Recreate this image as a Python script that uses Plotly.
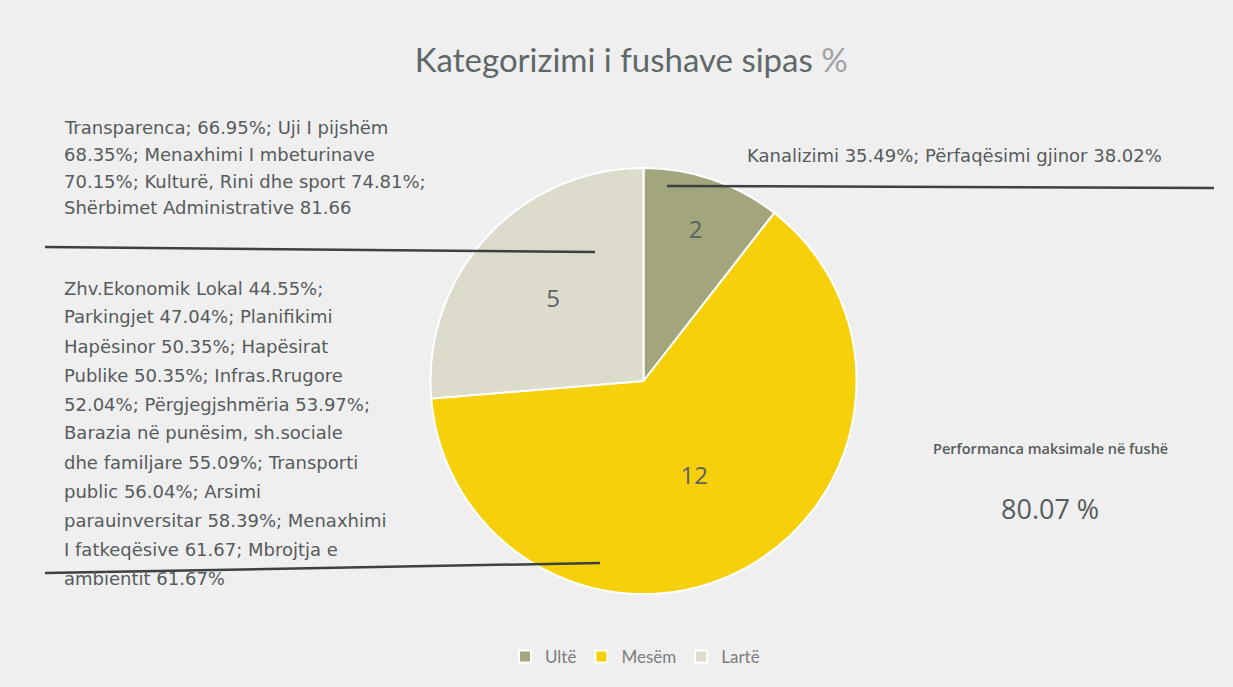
import plotly.graph_objects as go

# categories and counts of fields per category
categories = ["Ultë", "Mesëm", "Lartë"]
counts = [2, 12, 5]
colors = ["#a3a57c", "#f7d00c", "#dddbcc"]

title = "Kategorizimi i fushave sipas <span style='color:#a0a0a0'>%</span>"

# labels written next to the slices, one entry per printed line
high_lines = [
    "Transparenca; 66.95%; Uji I pijshëm",
    "68.35%; Menaxhimi I mbeturinave",
    "70.15%; Kulturë, Rini dhe sport 74.81%;",
    "Shërbimet Administrative 81.66",
]
mid_lines = [
    "Zhv.Ekonomik Lokal 44.55%;",
    "Parkingjet 47.04%; Planifikimi",
    "Hapësinor 50.35%; Hapësirat",
    "Publike 50.35%; Infras.Rrugore",
    "52.04%; Përgjegjshmëria 53.97%;",
    "Barazia në punësim, sh.sociale",
    "dhe familjare 55.09%; Transporti",
    "public 56.04%; Arsimi",
    "parauinversitar 58.39%; Menaxhimi",
    "I fatkeqësive 61.67; Mbrojtja e",
    "ambientit 61.67%",
]
low_text = "Kanalizimi 35.49%; Përfaqësimi gjinor 38.02%"
max_label = "Performanca maksimale në fushë"
max_value = "80.07 %"

W, H = 1233, 687
txt_color = "#565b5b"
geo_font = "DejaVu Sans"


def px(x):
    return x / W


def py(y):
    return 1 - y / H


fig = go.Figure()
fig.add_trace(go.Pie(
    labels=categories,
    values=counts,
    sort=False,
    direction="clockwise",
    rotation=0,
    marker=dict(colors=colors, line=dict(color="white", width=2)),
    textinfo="value",
    textposition="inside",
    insidetextorientation="horizontal",
    textfont=dict(size=24, color="#5e6262", family="Open Sans"),
    domain=dict(x=[px(430), px(857)], y=[py(594), py(168)]),
    hoverinfo="label+value",
))

annotations = []
for i, line in enumerate(high_lines):
    annotations.append(dict(x=px(62), y=py(127 + i * 27), text=line, xanchor="left", yanchor="middle"))
for i, line in enumerate(mid_lines):
    annotations.append(dict(x=px(62), y=py(288 + i * 29), text=line, xanchor="left", yanchor="middle"))
annotations.append(dict(x=px(745), y=py(155), text=low_text, xanchor="left", yanchor="middle"))
for a in annotations:
    a.update(xref="paper", yref="paper", showarrow=False,
             font=dict(family=geo_font, size=18, color=txt_color))

annotations.append(dict(x=px(1050), y=py(448), text=max_label, xref="paper", yref="paper",
                        showarrow=False, xanchor="center", yanchor="middle",
                        font=dict(family="Open Sans", size=14.5, weight=600, color=txt_color)))
annotations.append(dict(x=px(1050), y=py(508), text=max_value, xref="paper", yref="paper",
                        showarrow=False, xanchor="center", yanchor="middle",
                        font=dict(family="Open Sans", size=27, color=txt_color)))

# leader lines
line_style = dict(color="#3c4040", width=2.5)
shapes = [
    dict(type="line", xref="paper", yref="paper", x0=px(667), y0=py(186), x1=px(1214), y1=py(188), line=line_style),
    dict(type="line", xref="paper", yref="paper", x0=px(45), y0=py(247), x1=px(595), y1=py(252), line=line_style),
    dict(type="line", xref="paper", yref="paper", x0=px(45), y0=py(573), x1=px(600), y1=py(563), line=line_style),
]

fig.update_layout(
    width=W, height=H,
    margin=dict(l=0, r=0, t=0, b=0),
    paper_bgcolor="#efefef",
    plot_bgcolor="#efefef",
    title=dict(text=title, x=0.512, xanchor="center", y=py(60), yanchor="middle",
               font=dict(family="Lato", size=33, color="#5f6868")),
    legend=dict(orientation="h", x=0.515, xanchor="center", y=py(657), yanchor="middle",
                font=dict(family="Lato", size=17, color="#7d7d7d"), itemwidth=30),
    annotations=annotations,
    shapes=shapes,
)

fig.write_html("out.html", config={"displayModeBar": False},
               post_script="document.body.style.margin='0';")
